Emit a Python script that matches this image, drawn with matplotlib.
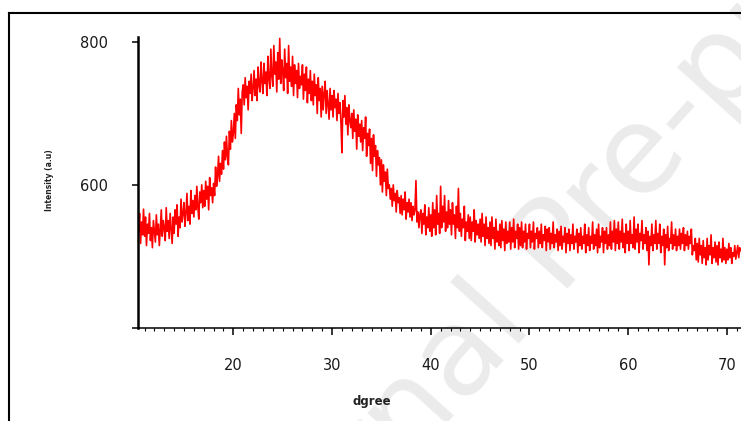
"""XRD pattern (intensity vs degree) with journal watermark."""
import matplotlib
matplotlib.use("Agg")
import matplotlib.pyplot as plt
from matplotlib.lines import Line2D
from matplotlib.ticker import MultipleLocator
import numpy as np

# 2-theta start and step, intensity rows (one row per degree, 0.1 deg step)
x_start = 10.3
x_step = 0.1
rows = [
    [575, 535, 560, 518, 548, 530, 566],
    [528, 555, 515, 545, 532, 560, 522, 540, 512, 550],
    [535, 520, 558, 530, 545, 515, 538, 565, 528, 550],
    [540, 522, 568, 535, 550, 525, 560, 540, 518, 555],
    [532, 565, 545, 572, 528, 555, 540, 580, 548, 560],
    [575, 542, 560, 588, 550, 570, 545, 592, 560, 578],
    [555, 585, 565, 598, 570, 552, 590, 575, 600, 568],
    [592, 570, 605, 580, 598, 565, 610, 585, 596, 575],
    [602, 585, 625, 598, 612, 640, 605, 630, 615, 648],
    [622, 660, 635, 668, 640, 628, 675, 650, 690, 660],
    [672, 700, 665, 712, 690, 735, 698, 720, 672, 730],
    [740, 712, 750, 722, 738, 705, 745, 728, 755, 718],
    [735, 760, 725, 748, 718, 765, 740, 730, 772, 745],
    [728, 770, 742, 758, 725, 780, 748, 735, 790, 752],
    [738, 795, 755, 772, 730, 785, 748, 805, 742, 775],
    [760, 732, 790, 750, 770, 728, 795, 745, 765, 738],
    [780, 725, 768, 742, 760, 722, 770, 735, 752, 740],
    [768, 720, 755, 732, 765, 715, 748, 728, 760, 718],
    [745, 712, 755, 725, 740, 700, 750, 718, 735, 695],
    [738, 705, 728, 745, 700, 732, 712, 692, 735, 705],
    [725, 695, 732, 708, 720, 690, 728, 700, 715, 688],
    [645, 718, 695, 725, 685, 708, 670, 712, 690, 680],
    [700, 665, 705, 675, 692, 650, 698, 668, 685, 660],
    [690, 648, 680, 665, 695, 640, 672, 655, 678, 630],
    [665, 620, 670, 640, 655, 612, 648, 628, 638, 600],
    [635, 590, 628, 605, 618, 585, 622, 595, 600, 580],
    [595, 570, 600, 578, 588, 562, 592, 575, 582, 560],
    [585, 558, 580, 565, 590, 552, 575, 562, 580, 555],
    [575, 550, 570, 558, 565, 606, 548, 562, 540, 558],
    [565, 532, 560, 545, 572, 530, 555, 540, 568, 535],
    [558, 528, 575, 540, 565, 530, 585, 545, 560, 532],
    [598, 540, 570, 548, 585, 535, 562, 540, 578, 545],
    [565, 530, 575, 545, 558, 525, 570, 540, 595, 535],
    [560, 528, 552, 540, 570, 522, 548, 535, 558, 525],
    [555, 522, 548, 535, 565, 520, 550, 530, 545, 525],
    [552, 520, 560, 528, 545, 515, 555, 525, 540, 518],
    [548, 515, 555, 525, 540, 510, 552, 520, 535, 515],
    [545, 512, 550, 522, 538, 508, 548, 518, 535, 520],
    [548, 510, 540, 520, 552, 512, 535, 525, 545, 510],
    [540, 515, 548, 512, 535, 520, 545, 510, 532, 525],
    [545, 512, 535, 520, 548, 510, 532, 525, 540, 512],
    [535, 518, 545, 512, 530, 522, 542, 508, 538, 520],
    [540, 510, 532, 518, 548, 512, 530, 520, 538, 508],
    [535, 515, 542, 510, 528, 520, 540, 505, 532, 518],
    [538, 508, 530, 518, 545, 510, 528, 520, 538, 505],
    [532, 515, 540, 510, 528, 518, 545, 505, 530, 515],
    [540, 508, 528, 518, 548, 510, 530, 515, 538, 505],
    [545, 512, 528, 520, 540, 505, 535, 518, 540, 510],
    [530, 515, 548, 510, 535, 520, 550, 508, 538, 518],
    [548, 510, 535, 520, 552, 512, 532, 505, 545, 518],
    [535, 508, 550, 518, 530, 512, 555, 510, 538, 520],
    [545, 505, 532, 522, 550, 510, 530, 518, 540, 508],
    [535, 488, 528, 515, 545, 508, 530, 518, 550, 510],
    [532, 518, 545, 505, 528, 515, 538, 488, 530, 512],
    [542, 508, 525, 518, 548, 510, 530, 515, 538, 508],
    [528, 515, 538, 510, 532, 518, 540, 508, 530, 515],
    [535, 510, 528, 518, 538, 502, 515, 508, 525, 495],
    [518, 492, 525, 502, 515, 490, 522, 498, 512, 488],
    [525, 495, 515, 502, 530, 490, 512, 498, 520, 492],
    [515, 488, 520, 498, 510, 492, 525, 495, 512, 490],
    [510, 495, 518, 498, 512, 490, 505, 500, 515, 496],
    [505, 515, 498, 512, 508],
]
intensity = [v for r in rows for v in r]
two_theta = x_start + x_step * np.arange(len(intensity))

y_ticks = [400, 600, 800]
y_tick_labels = ["", "600", "800"]
x_ticks = [20, 30, 40, 50, 60, 70]

W, H = 741, 421
fig = plt.figure(figsize=(W / 100, H / 100), dpi=100)
fig.patch.set_facecolor("white")

# watermark behind everything
fig.text(570 / W, 1 - 245 / H, "Journal Pre-proof", fontsize=88,
         color="#ebebeb", rotation=48, ha="center", va="center",
         rotation_mode="anchor", zorder=-5)

# page frame (top and left edges)
fig.add_artist(Line2D([8.5 / W, 1], [1 - 13 / H, 1 - 13 / H],
                      color="black", lw=1.5, transform=fig.transFigure))
fig.add_artist(Line2D([8.5 / W, 8.5 / W], [0, 1 - 13 / H],
                      color="black", lw=1.5, transform=fig.transFigure))

ax = fig.add_axes([137.7 / W, (H - 327.7) / H, (W - 137.7) / W, 290.7 / H])
ax.patch.set_alpha(0)
ax.plot(two_theta, intensity, color="#ff0000", lw=1.2)

ax.set_xlim(10.31, 71.43)
ax.set_ylim(400, 807)
for s in ("top", "right"):
    ax.spines[s].set_visible(False)
ax.spines["left"].set_linewidth(1.8)
ax.spines["bottom"].set_linewidth(1.1)

ax.set_xticks(x_ticks)
ax.xaxis.set_minor_locator(MultipleLocator(1))
ax.set_yticks(y_ticks)
ax.set_yticklabels(y_tick_labels)
ax.tick_params(axis="x", which="major", length=5, width=1.1, pad=17,
               labelsize=10.5, labelcolor="#1a1a1a")
ax.tick_params(axis="x", which="minor", length=2.2, width=0.8)
ax.tick_params(axis="y", which="major", length=4.5, width=1.1, pad=17,
               labelsize=10.5, labelcolor="#1a1a1a")

fig.text(372 / W, 1 - 402 / H, "dgree", fontsize=8.5, fontweight="bold",
         ha="center", va="center", color="#222222")
fig.text(50 / W, 1 - 180 / H, "Intensity (a.u)", fontsize=5.5,
         fontweight="bold", rotation=90, ha="center", va="center",
         color="#222222")

plt.savefig("out.png", dpi=100, facecolor="white")
print("Saved: out.png")
